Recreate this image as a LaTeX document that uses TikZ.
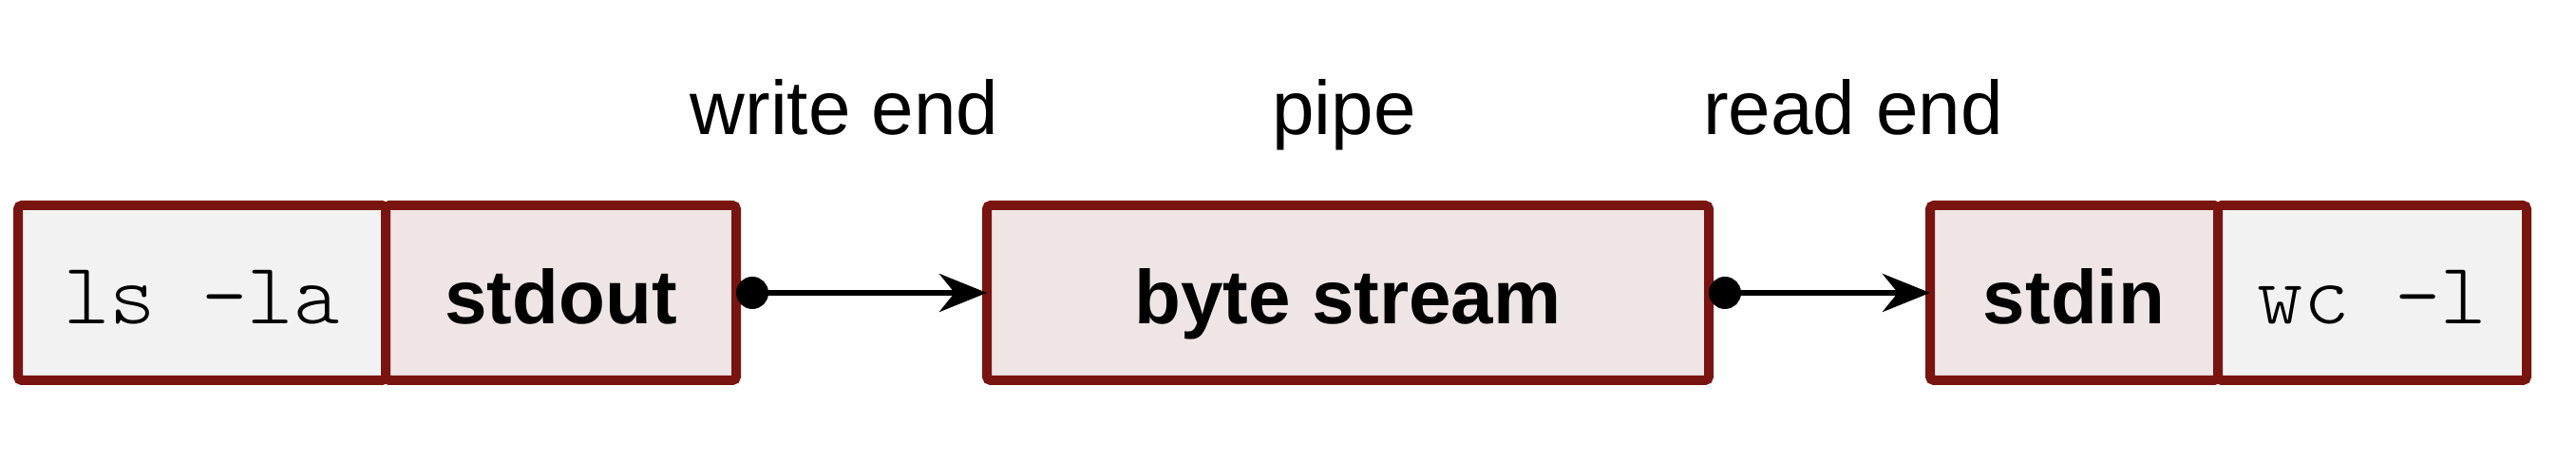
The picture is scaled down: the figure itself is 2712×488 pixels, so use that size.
\documentclass[tikz,border=0pt]{standalone}
\usepackage{fontspec}
\setmainfont{Liberation Sans}
\setmonofont{Latin Modern Mono Light}
\usetikzlibrary{arrows.meta,positioning}
\definecolor{edge}{HTML}{7A1410}
\definecolor{cmdlt}{HTML}{F2F2F2}
\definecolor{pipelt}{HTML}{F0E5E5}
\tikzset{
  box/.style={draw=edge, line width=2.5pt, rounded corners=1pt, outer sep=0pt,
              minimum height=46pt, inner sep=0pt, text height=18pt, text depth=1.6pt,
              font=\fontsize{20}{24}\selectfont},
  cmdbox/.style={box, fill=cmdlt, font=\fontsize{23}{26}\selectfont\ttfamily},
  fdbox/.style={box, fill=pipelt, font=\fontsize{20}{24}\selectfont\bfseries},
  ar/.style={{Circle[length=8.5pt]}-{Stealth[length=12.5pt,width=10pt,inset=4pt]},
             line width=1.6pt, draw=black},
  lbl/.style={font=\fontsize{20}{24}\selectfont, anchor=base}
}

\begin{document}
\begin{tikzpicture}[x=0.25pt,y=0.25pt]
  \useasboundingbox (0,0) rectangle (2712,488);

  % writer side
  \node[cmdbox, minimum width=96.75pt] (ls) at (212.5,180) {ls -la};
  \node[fdbox, minimum width=92.25pt, right=0pt of ls] (out) {stdout};

  % the pipe itself
  \node[fdbox, minimum width=190pt, right=66pt of out] (stream) {byte stream};

  % reader side
  \node[fdbox, minimum width=75.75pt, right=58.25pt of stream] (in) {stdin};
  \node[cmdbox, minimum width=81.25pt, right=0pt of in] (wc) {wc -l};

  \draw[ar] (out) -- (stream);
  \draw[ar] (stream) -- (in);

  % labels
  \node[lbl] (wlabel) at (889,346) {write end};
  \node[lbl] (plabel) at (1415,346) {pipe};
  \node[lbl] (rlabel) at (1951,346) {read end};
\end{tikzpicture}
\end{document}
